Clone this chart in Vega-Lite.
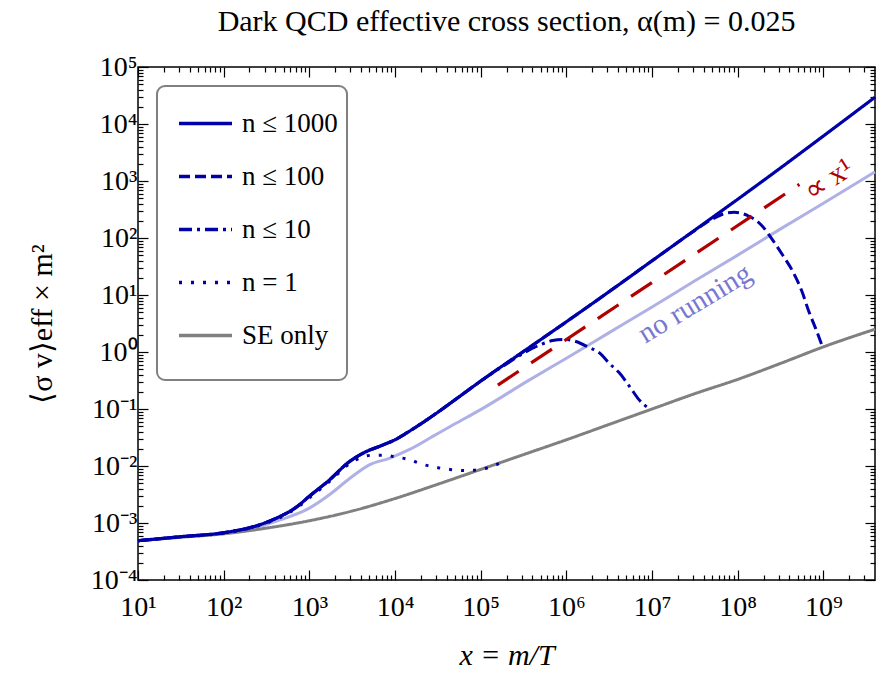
{
  "$schema": "https://vega.github.io/schema/vega-lite/v6.json",
  "width": 737,
  "height": 513,
  "autosize": {"type": "none"},
  "padding": {"left": 138, "top": 67, "right": 6, "bottom": 95},
  "background": "white",
  "title": {"text": "Dark QCD effective cross section, α(m) = 0.025", "font": "Liberation Serif", "fontSize": 30, "fontWeight": "normal", "color": "black", "anchor": "middle", "offset": 16},
  "config": {
    "font": "Liberation Serif",
    "view": {"stroke": "black", "strokeWidth": 1.5},
    "legend": {"strokeWidth": 2},
    "line": {"interpolate": "monotone"}
  },
  "data": {"values": [
    {"s": "no running", "x": 10, "y": 0.00049},
    {"s": "no running", "x": 31.6, "y": 0.000569},
    {"s": "no running", "x": 100, "y": 0.000661},
    {"s": "no running", "x": 240, "y": 0.000832},
    {"s": "no running", "x": 447, "y": 0.001122},
    {"s": "no running", "x": 1000, "y": 0.00182},
    {"s": "no running", "x": 1698, "y": 0.00309},
    {"s": "no running", "x": 2951, "y": 0.00603},
    {"s": "no running", "x": 5012, "y": 0.01047},
    {"s": "no running", "x": 8710, "y": 0.0138},
    {"s": "no running", "x": 14791, "y": 0.0195},
    {"s": "no running", "x": 27542, "y": 0.0331},
    {"s": "no running", "x": 50119, "y": 0.055},
    {"s": "no running", "x": 100000, "y": 0.0977},
    {"s": "no running", "x": 371535, "y": 0.324},
    {"s": "no running", "x": 1000000, "y": 0.776},
    {"s": "no running", "x": 3162278, "y": 2.188},
    {"s": "no running", "x": 10000000, "y": 6.17},
    {"s": "no running", "x": 31622777, "y": 17.78},
    {"s": "no running", "x": 100000000, "y": 50.1},
    {"s": "no running", "x": 316227766, "y": 144.5},
    {"s": "no running", "x": 1000000000, "y": 407.4},
    {"s": "no running", "x": 4000000000, "y": 1445},

    {"s": "SE only", "x": 10, "y": 0.00049},
    {"s": "SE only", "x": 31.6, "y": 0.000562},
    {"s": "SE only", "x": 100, "y": 0.000646},
    {"s": "SE only", "x": 316, "y": 0.000813},
    {"s": "SE only", "x": 1000, "y": 0.001096},
    {"s": "SE only", "x": 3162, "y": 0.001622},
    {"s": "SE only", "x": 10000, "y": 0.00269},
    {"s": "SE only", "x": 31623, "y": 0.00479},
    {"s": "SE only", "x": 100000, "y": 0.00871},
    {"s": "SE only", "x": 316228, "y": 0.01585},
    {"s": "SE only", "x": 1000000, "y": 0.02884},
    {"s": "SE only", "x": 3162278, "y": 0.0537},
    {"s": "SE only", "x": 10000000, "y": 0.1},
    {"s": "SE only", "x": 31622777, "y": 0.186},
    {"s": "SE only", "x": 100000000, "y": 0.331},
    {"s": "SE only", "x": 316227766, "y": 0.631},
    {"s": "SE only", "x": 1000000000, "y": 1.23},
    {"s": "SE only", "x": 4000000000, "y": 2.51},

    {"s": "n = 1", "x": 10, "y": 0.00049},
    {"s": "n = 1", "x": 31.6, "y": 0.000569},
    {"s": "n = 1", "x": 100, "y": 0.000668},
    {"s": "n = 1", "x": 240, "y": 0.000871},
    {"s": "n = 1", "x": 447, "y": 0.00123},
    {"s": "n = 1", "x": 708, "y": 0.00182},
    {"s": "n = 1", "x": 1000, "y": 0.002754},
    {"s": "n = 1", "x": 1698, "y": 0.00525},
    {"s": "n = 1", "x": 2951, "y": 0.01096},
    {"s": "n = 1", "x": 4169, "y": 0.01445},
    {"s": "n = 1", "x": 5623, "y": 0.01549},
    {"s": "n = 1", "x": 7244, "y": 0.01549},
    {"s": "n = 1", "x": 10000, "y": 0.01445},
    {"s": "n = 1", "x": 14791, "y": 0.01288},
    {"s": "n = 1", "x": 20893, "y": 0.01072},
    {"s": "n = 1", "x": 31623, "y": 0.00933},
    {"s": "n = 1", "x": 43652, "y": 0.00871},
    {"s": "n = 1", "x": 67608, "y": 0.00832},
    {"s": "n = 1", "x": 100000, "y": 0.00871},
    {"s": "n = 1", "x": 199526, "y": 0.01259},

    {"s": "n ≤ 10", "x": 10, "y": 0.00049},
    {"s": "n ≤ 10", "x": 31.6, "y": 0.000575},
    {"s": "n ≤ 10", "x": 100, "y": 0.000676},
    {"s": "n ≤ 10", "x": 240, "y": 0.000891},
    {"s": "n ≤ 10", "x": 447, "y": 0.001288},
    {"s": "n ≤ 10", "x": 708, "y": 0.001905},
    {"s": "n ≤ 10", "x": 1000, "y": 0.00295},
    {"s": "n ≤ 10", "x": 1698, "y": 0.00562},
    {"s": "n ≤ 10", "x": 2951, "y": 0.01202},
    {"s": "n ≤ 10", "x": 4169, "y": 0.0166},
    {"s": "n ≤ 10", "x": 7244, "y": 0.02344},
    {"s": "n ≤ 10", "x": 10000, "y": 0.02884},
    {"s": "n ≤ 10", "x": 14791, "y": 0.041},
    {"s": "n ≤ 10", "x": 27542, "y": 0.076},
    {"s": "n ≤ 10", "x": 50119, "y": 0.145},
    {"s": "n ≤ 10", "x": 100000, "y": 0.309},
    {"s": "n ≤ 10", "x": 199526, "y": 0.617},
    {"s": "n ≤ 10", "x": 316228, "y": 0.955},
    {"s": "n ≤ 10", "x": 501187, "y": 1.349},
    {"s": "n ≤ 10", "x": 691831, "y": 1.585},
    {"s": "n ≤ 10", "x": 954993, "y": 1.66},
    {"s": "n ≤ 10", "x": 1318257, "y": 1.514},
    {"s": "n ≤ 10", "x": 1778279, "y": 1.23},
    {"s": "n ≤ 10", "x": 2454709, "y": 0.955},
    {"s": "n ≤ 10", "x": 3162278, "y": 0.631},
    {"s": "n ≤ 10", "x": 4168694, "y": 0.427},
    {"s": "n ≤ 10", "x": 5495409, "y": 0.245},
    {"s": "n ≤ 10", "x": 7079458, "y": 0.1445},
    {"s": "n ≤ 10", "x": 9332543, "y": 0.1},

    {"s": "n ≤ 100", "x": 10, "y": 0.00049},
    {"s": "n ≤ 100", "x": 31.6, "y": 0.000575},
    {"s": "n ≤ 100", "x": 100, "y": 0.000676},
    {"s": "n ≤ 100", "x": 240, "y": 0.000891},
    {"s": "n ≤ 100", "x": 447, "y": 0.001288},
    {"s": "n ≤ 100", "x": 708, "y": 0.001905},
    {"s": "n ≤ 100", "x": 1000, "y": 0.00295},
    {"s": "n ≤ 100", "x": 1698, "y": 0.00562},
    {"s": "n ≤ 100", "x": 2951, "y": 0.01202},
    {"s": "n ≤ 100", "x": 4169, "y": 0.0166},
    {"s": "n ≤ 100", "x": 7244, "y": 0.02344},
    {"s": "n ≤ 100", "x": 10000, "y": 0.02884},
    {"s": "n ≤ 100", "x": 14791, "y": 0.041},
    {"s": "n ≤ 100", "x": 27542, "y": 0.076},
    {"s": "n ≤ 100", "x": 50119, "y": 0.145},
    {"s": "n ≤ 100", "x": 100000, "y": 0.309},
    {"s": "n ≤ 100", "x": 316228, "y": 1.023},
    {"s": "n ≤ 100", "x": 1000000, "y": 3.39},
    {"s": "n ≤ 100", "x": 3162278, "y": 11.48},
    {"s": "n ≤ 100", "x": 10000000, "y": 39.8},
    {"s": "n ≤ 100", "x": 31622777, "y": 136},
    {"s": "n ≤ 100", "x": 50118723, "y": 213.8},
    {"s": "n ≤ 100", "x": 70794578, "y": 269.2},
    {"s": "n ≤ 100", "x": 91201084, "y": 281.8},
    {"s": "n ≤ 100", "x": 131825674, "y": 245.5},
    {"s": "n ≤ 100", "x": 190546072, "y": 166},
    {"s": "n ≤ 100", "x": 251188643, "y": 95.5},
    {"s": "n ≤ 100", "x": 331131121, "y": 51.3},
    {"s": "n ≤ 100", "x": 436515832, "y": 26.3},
    {"s": "n ≤ 100", "x": 562341325, "y": 11.48},
    {"s": "n ≤ 100", "x": 676082975, "y": 5.13},
    {"s": "n ≤ 100", "x": 812830516, "y": 2.57},
    {"s": "n ≤ 100", "x": 977237221, "y": 1.23},

    {"s": "n ≤ 1000", "x": 10, "y": 0.00049},
    {"s": "n ≤ 1000", "x": 31.6, "y": 0.000575},
    {"s": "n ≤ 1000", "x": 100, "y": 0.000676},
    {"s": "n ≤ 1000", "x": 240, "y": 0.000891},
    {"s": "n ≤ 1000", "x": 447, "y": 0.001288},
    {"s": "n ≤ 1000", "x": 708, "y": 0.001905},
    {"s": "n ≤ 1000", "x": 1000, "y": 0.00295},
    {"s": "n ≤ 1000", "x": 1698, "y": 0.00562},
    {"s": "n ≤ 1000", "x": 2951, "y": 0.01202},
    {"s": "n ≤ 1000", "x": 4169, "y": 0.0166},
    {"s": "n ≤ 1000", "x": 7244, "y": 0.02344},
    {"s": "n ≤ 1000", "x": 10000, "y": 0.02884},
    {"s": "n ≤ 1000", "x": 14791, "y": 0.041},
    {"s": "n ≤ 1000", "x": 27542, "y": 0.076},
    {"s": "n ≤ 1000", "x": 50119, "y": 0.145},
    {"s": "n ≤ 1000", "x": 100000, "y": 0.309},
    {"s": "n ≤ 1000", "x": 316228, "y": 1.023},
    {"s": "n ≤ 1000", "x": 1000000, "y": 3.39},
    {"s": "n ≤ 1000", "x": 3162278, "y": 11.48},
    {"s": "n ≤ 1000", "x": 10000000, "y": 39.8},
    {"s": "n ≤ 1000", "x": 31622777, "y": 138},
    {"s": "n ≤ 1000", "x": 100000000, "y": 478.6},
    {"s": "n ≤ 1000", "x": 316227766, "y": 1698},
    {"s": "n ≤ 1000", "x": 1000000000, "y": 6166},
    {"s": "n ≤ 1000", "x": 4000000000, "y": 29512},

    {"s": "x1", "x": 158489, "y": 0.263},
    {"s": "x1", "x": 524807460, "y": 871}
  ]},
  "resolve": {"axis": {"x": "independent", "y": "independent"}},
  "layer": [
    {
      "transform": [{"filter": "datum.s == 'no running'"}],
      "mark": {"type": "line", "color": "#afb0e6", "strokeWidth": 3},
      "encoding": {
        "x": {"field": "x", "type": "quantitative", "scale": {"type": "log", "domain": [10, 4000000000], "nice": false},
          "axis": {"orient": "bottom", "grid": false, "domain": false,
            "values": [10,20,30,40,50,60,70,80,90,100,200,300,400,500,600,700,800,900,1000,2000,3000,4000,5000,6000,7000,8000,9000,10000,20000,30000,40000,50000,60000,70000,80000,90000,100000,200000,300000,400000,500000,600000,700000,800000,900000,1000000,2000000,3000000,4000000,5000000,6000000,7000000,8000000,9000000,10000000,20000000,30000000,40000000,50000000,60000000,70000000,80000000,90000000,100000000,200000000,300000000,400000000,500000000,600000000,700000000,800000000,900000000,1000000000,2000000000,3000000000],
            "labelExpr": "abs(log(datum.value)/LN10 - round(log(datum.value)/LN10)) < 0.01 ? '10' + ['⁰','¹','²','³','⁴','⁵','⁶','⁷','⁸','⁹'][round(log(datum.value)/LN10)] : ''",
            "tickSize": {"condition": {"test": "abs(log(datum.value)/LN10 - round(log(datum.value)/LN10)) < 0.01", "value": -10}, "value": -5},
            "tickColor": "black", "tickWidth": 1.2,
            "labelPadding": 23, "labelFont": "Liberation Serif", "labelFontSize": 28, "labelColor": "black", "labelOverlap": false, "labelFlush": false,
            "title": "x = m/T", "titleFont": "Liberation Serif", "titleFontSize": 30, "titleFontStyle": "italic", "titleFontWeight": "normal", "titleColor": "black", "titlePadding": 14}},
        "y": {"field": "y", "type": "quantitative", "scale": {"type": "log", "domain": [0.0001, 100000], "nice": false},
          "axis": {"orient": "left", "grid": false, "domain": false,
            "values": [0.0001,0.0002,0.0003,0.0004,0.0005,0.0006,0.0007,0.0008,0.0009,0.001,0.002,0.003,0.004,0.005,0.006,0.007,0.008,0.009,0.01,0.02,0.03,0.04,0.05,0.06,0.07,0.08,0.09,0.1,0.2,0.3,0.4,0.5,0.6,0.7,0.8,0.9,1,2,3,4,5,6,7,8,9,10,20,30,40,50,60,70,80,90,100,200,300,400,500,600,700,800,900,1000,2000,3000,4000,5000,6000,7000,8000,9000,10000,20000,30000,40000,50000,60000,70000,80000,90000,100000],
            "labelExpr": "abs(log(datum.value)/LN10 - round(log(datum.value)/LN10)) < 0.01 ? '10' + (round(log(datum.value)/LN10) < 0 ? '⁻' : '') + ['⁰','¹','²','³','⁴','⁵','⁶','⁷','⁸','⁹'][abs(round(log(datum.value)/LN10))] : ''",
            "tickSize": {"condition": {"test": "abs(log(datum.value)/LN10 - round(log(datum.value)/LN10)) < 0.01", "value": -10}, "value": -5},
            "tickColor": "black", "tickWidth": 1.2,
            "labelPadding": 11, "labelFont": "Liberation Serif", "labelFontSize": 28, "labelColor": "black", "labelOverlap": false, "labelFlush": false,
            "title": "⟨σ v⟩eff × m²", "titleFont": "Liberation Serif", "titleFontSize": 30, "titleFontWeight": "normal", "titleColor": "black", "titlePadding": 33}}
      }
    },
    {
      "transform": [{"filter": "datum.s == 'SE only'"}],
      "mark": {"type": "line", "strokeWidth": 3},
      "encoding": {
        "x": {"field": "x", "type": "quantitative", "scale": {"type": "log", "domain": [10, 4000000000], "nice": false}, "axis": null},
        "y": {"field": "y", "type": "quantitative", "scale": {"type": "log", "domain": [0.0001, 100000], "nice": false}, "axis": null},
        "color": {"field": "s", "type": "nominal", "scale": {"domain": ["n ≤ 1000", "n ≤ 100", "n ≤ 10", "n = 1", "SE only"], "range": ["#0000aa", "#0000aa", "#0000aa", "#0000aa", "#808080"]},
          "legend": {"title": "\u00a0", "titleOrient": "bottom", "titleFontSize": 17, "titlePadding": 6, "orient": "none", "legendX": 19, "legendY": 19, "symbolType": "stroke", "symbolSize": 2809, "symbolStrokeWidth": 3.5, "labelFont": "Liberation Serif", "labelFontSize": 27, "labelColor": "black", "labelOffset": 8, "padding": 9, "symbolOffset": 11, "rowPadding": 11, "strokeColor": "#808080", "cornerRadius": 8, "fillColor": "white", "labelLimit": 400}},
        "strokeDash": {"field": "s", "type": "nominal", "scale": {"domain": ["n ≤ 1000", "n ≤ 100", "n ≤ 10", "n = 1", "SE only"], "range": [[1, 0], [11, 5], [13, 5, 3, 5], [3, 9], [1, 0]]},
          "legend": {"title": "\u00a0", "titleOrient": "bottom", "titleFontSize": 17, "titlePadding": 6, "orient": "none", "legendX": 19, "legendY": 19, "symbolType": "stroke", "symbolSize": 2809, "symbolStrokeWidth": 3.5, "labelFont": "Liberation Serif", "labelFontSize": 27, "labelColor": "black", "labelOffset": 8, "padding": 9, "symbolOffset": 11, "rowPadding": 11, "strokeColor": "#808080", "cornerRadius": 8, "fillColor": "white", "labelLimit": 400}}
      }
    },
    {
      "transform": [{"filter": "datum.s == 'n = 1'"}],
      "mark": {"type": "line", "strokeWidth": 3},
      "encoding": {
        "x": {"field": "x", "type": "quantitative", "scale": {"type": "log", "domain": [10, 4000000000], "nice": false}, "axis": null},
        "y": {"field": "y", "type": "quantitative", "scale": {"type": "log", "domain": [0.0001, 100000], "nice": false}, "axis": null},
        "color": {"field": "s", "type": "nominal", "scale": {"domain": ["n ≤ 1000", "n ≤ 100", "n ≤ 10", "n = 1", "SE only"], "range": ["#0000aa", "#0000aa", "#0000aa", "#0000aa", "#808080"]},
          "legend": {"title": "\u00a0", "titleOrient": "bottom", "titleFontSize": 17, "titlePadding": 6, "orient": "none", "legendX": 19, "legendY": 19, "symbolType": "stroke", "symbolSize": 2809, "symbolStrokeWidth": 3.5, "labelFont": "Liberation Serif", "labelFontSize": 27, "labelColor": "black", "labelOffset": 8, "padding": 9, "symbolOffset": 11, "rowPadding": 11, "strokeColor": "#808080", "cornerRadius": 8, "fillColor": "white", "labelLimit": 400}},
        "strokeDash": {"field": "s", "type": "nominal", "scale": {"domain": ["n ≤ 1000", "n ≤ 100", "n ≤ 10", "n = 1", "SE only"], "range": [[1, 0], [11, 5], [13, 5, 3, 5], [3, 9], [1, 0]]},
          "legend": {"title": "\u00a0", "titleOrient": "bottom", "titleFontSize": 17, "titlePadding": 6, "orient": "none", "legendX": 19, "legendY": 19, "symbolType": "stroke", "symbolSize": 2809, "symbolStrokeWidth": 3.5, "labelFont": "Liberation Serif", "labelFontSize": 27, "labelColor": "black", "labelOffset": 8, "padding": 9, "symbolOffset": 11, "rowPadding": 11, "strokeColor": "#808080", "cornerRadius": 8, "fillColor": "white", "labelLimit": 400}}
      }
    },
    {
      "transform": [{"filter": "datum.s == 'n ≤ 10'"}],
      "mark": {"type": "line", "strokeWidth": 3},
      "encoding": {
        "x": {"field": "x", "type": "quantitative", "scale": {"type": "log", "domain": [10, 4000000000], "nice": false}, "axis": null},
        "y": {"field": "y", "type": "quantitative", "scale": {"type": "log", "domain": [0.0001, 100000], "nice": false}, "axis": null},
        "color": {"field": "s", "type": "nominal", "scale": {"domain": ["n ≤ 1000", "n ≤ 100", "n ≤ 10", "n = 1", "SE only"], "range": ["#0000aa", "#0000aa", "#0000aa", "#0000aa", "#808080"]},
          "legend": {"title": "\u00a0", "titleOrient": "bottom", "titleFontSize": 17, "titlePadding": 6, "orient": "none", "legendX": 19, "legendY": 19, "symbolType": "stroke", "symbolSize": 2809, "symbolStrokeWidth": 3.5, "labelFont": "Liberation Serif", "labelFontSize": 27, "labelColor": "black", "labelOffset": 8, "padding": 9, "symbolOffset": 11, "rowPadding": 11, "strokeColor": "#808080", "cornerRadius": 8, "fillColor": "white", "labelLimit": 400}},
        "strokeDash": {"field": "s", "type": "nominal", "scale": {"domain": ["n ≤ 1000", "n ≤ 100", "n ≤ 10", "n = 1", "SE only"], "range": [[1, 0], [11, 5], [13, 5, 3, 5], [3, 9], [1, 0]]},
          "legend": {"title": "\u00a0", "titleOrient": "bottom", "titleFontSize": 17, "titlePadding": 6, "orient": "none", "legendX": 19, "legendY": 19, "symbolType": "stroke", "symbolSize": 2809, "symbolStrokeWidth": 3.5, "labelFont": "Liberation Serif", "labelFontSize": 27, "labelColor": "black", "labelOffset": 8, "padding": 9, "symbolOffset": 11, "rowPadding": 11, "strokeColor": "#808080", "cornerRadius": 8, "fillColor": "white", "labelLimit": 400}}
      }
    },
    {
      "transform": [{"filter": "datum.s == 'n ≤ 100'"}],
      "mark": {"type": "line", "strokeWidth": 3},
      "encoding": {
        "x": {"field": "x", "type": "quantitative", "scale": {"type": "log", "domain": [10, 4000000000], "nice": false}, "axis": null},
        "y": {"field": "y", "type": "quantitative", "scale": {"type": "log", "domain": [0.0001, 100000], "nice": false}, "axis": null},
        "color": {"field": "s", "type": "nominal", "scale": {"domain": ["n ≤ 1000", "n ≤ 100", "n ≤ 10", "n = 1", "SE only"], "range": ["#0000aa", "#0000aa", "#0000aa", "#0000aa", "#808080"]},
          "legend": {"title": "\u00a0", "titleOrient": "bottom", "titleFontSize": 17, "titlePadding": 6, "orient": "none", "legendX": 19, "legendY": 19, "symbolType": "stroke", "symbolSize": 2809, "symbolStrokeWidth": 3.5, "labelFont": "Liberation Serif", "labelFontSize": 27, "labelColor": "black", "labelOffset": 8, "padding": 9, "symbolOffset": 11, "rowPadding": 11, "strokeColor": "#808080", "cornerRadius": 8, "fillColor": "white", "labelLimit": 400}},
        "strokeDash": {"field": "s", "type": "nominal", "scale": {"domain": ["n ≤ 1000", "n ≤ 100", "n ≤ 10", "n = 1", "SE only"], "range": [[1, 0], [11, 5], [13, 5, 3, 5], [3, 9], [1, 0]]},
          "legend": {"title": "\u00a0", "titleOrient": "bottom", "titleFontSize": 17, "titlePadding": 6, "orient": "none", "legendX": 19, "legendY": 19, "symbolType": "stroke", "symbolSize": 2809, "symbolStrokeWidth": 3.5, "labelFont": "Liberation Serif", "labelFontSize": 27, "labelColor": "black", "labelOffset": 8, "padding": 9, "symbolOffset": 11, "rowPadding": 11, "strokeColor": "#808080", "cornerRadius": 8, "fillColor": "white", "labelLimit": 400}}
      }
    },
    {
      "transform": [{"filter": "datum.s == 'n ≤ 1000'"}],
      "mark": {"type": "line", "strokeWidth": 3.2},
      "encoding": {
        "x": {"field": "x", "type": "quantitative", "scale": {"type": "log", "domain": [10, 4000000000], "nice": false}, "axis": null},
        "y": {"field": "y", "type": "quantitative", "scale": {"type": "log", "domain": [0.0001, 100000], "nice": false}, "axis": null},
        "color": {"field": "s", "type": "nominal", "scale": {"domain": ["n ≤ 1000", "n ≤ 100", "n ≤ 10", "n = 1", "SE only"], "range": ["#0000aa", "#0000aa", "#0000aa", "#0000aa", "#808080"]},
          "legend": {"title": "\u00a0", "titleOrient": "bottom", "titleFontSize": 17, "titlePadding": 6, "orient": "none", "legendX": 19, "legendY": 19, "symbolType": "stroke", "symbolSize": 2809, "symbolStrokeWidth": 3.5, "labelFont": "Liberation Serif", "labelFontSize": 27, "labelColor": "black", "labelOffset": 8, "padding": 9, "symbolOffset": 11, "rowPadding": 11, "strokeColor": "#808080", "cornerRadius": 8, "fillColor": "white", "labelLimit": 400}},
        "strokeDash": {"field": "s", "type": "nominal", "scale": {"domain": ["n ≤ 1000", "n ≤ 100", "n ≤ 10", "n = 1", "SE only"], "range": [[1, 0], [11, 5], [13, 5, 3, 5], [3, 9], [1, 0]]},
          "legend": {"title": "\u00a0", "titleOrient": "bottom", "titleFontSize": 17, "titlePadding": 6, "orient": "none", "legendX": 19, "legendY": 19, "symbolType": "stroke", "symbolSize": 2809, "symbolStrokeWidth": 3.5, "labelFont": "Liberation Serif", "labelFontSize": 27, "labelColor": "black", "labelOffset": 8, "padding": 9, "symbolOffset": 11, "rowPadding": 11, "strokeColor": "#808080", "cornerRadius": 8, "fillColor": "white", "labelLimit": 400}}
      }
    },
    {
      "transform": [{"filter": "datum.s == 'x1'"}],
      "mark": {"type": "line", "color": "#b00000", "strokeWidth": 3.2, "strokeDash": [25, 15], "interpolate": "linear"},
      "encoding": {
        "x": {"field": "x", "type": "quantitative", "scale": {"type": "log", "domain": [10, 4000000000], "nice": false}, "axis": null},
        "y": {"field": "y", "type": "quantitative", "scale": {"type": "log", "domain": [0.0001, 100000], "nice": false}, "axis": null}
      }
    },
    {
      "data": {"values": [{"x": 31600000, "y": 7.1, "t": "no running"}]},
      "mark": {"type": "text", "angle": -31, "font": "Liberation Serif", "fontSize": 29, "color": "#7878d0", "align": "center", "baseline": "middle"},
      "encoding": {
        "x": {"field": "x", "type": "quantitative", "scale": {"type": "log", "domain": [10, 4000000000], "nice": false}, "axis": null},
        "y": {"field": "y", "type": "quantitative", "scale": {"type": "log", "domain": [0.0001, 100000], "nice": false}, "axis": null},
        "text": {"field": "t"}
      }
    },
    {
      "data": {"values": [{"x": 1150000000, "y": 1050, "t": "∝ x¹"}]},
      "mark": {"type": "text", "angle": -33, "font": "Liberation Serif", "fontSize": 30, "color": "#b00000", "align": "center", "baseline": "middle"},
      "encoding": {
        "x": {"field": "x", "type": "quantitative", "scale": {"type": "log", "domain": [10, 4000000000], "nice": false}, "axis": null},
        "y": {"field": "y", "type": "quantitative", "scale": {"type": "log", "domain": [0.0001, 100000], "nice": false}, "axis": null},
        "text": {"field": "t"}
      }
    },
    {
      "transform": [{"filter": "datum.s == 'x1'"}],
      "mark": {"type": "point", "opacity": 0},
      "encoding": {
        "x": {"field": "x", "type": "quantitative", "scale": {"type": "log", "domain": [10, 4000000000], "nice": false},
          "axis": {"orient": "top", "grid": false, "domain": false, "labels": false, "title": null,
            "values": [10,20,30,40,50,60,70,80,90,100,200,300,400,500,600,700,800,900,1000,2000,3000,4000,5000,6000,7000,8000,9000,10000,20000,30000,40000,50000,60000,70000,80000,90000,100000,200000,300000,400000,500000,600000,700000,800000,900000,1000000,2000000,3000000,4000000,5000000,6000000,7000000,8000000,9000000,10000000,20000000,30000000,40000000,50000000,60000000,70000000,80000000,90000000,100000000,200000000,300000000,400000000,500000000,600000000,700000000,800000000,900000000,1000000000,2000000000,3000000000],
            "tickSize": {"condition": {"test": "abs(log(datum.value)/LN10 - round(log(datum.value)/LN10)) < 0.01", "value": -10}, "value": -5},
            "tickColor": "black", "tickWidth": 1.2}},
        "y": {"field": "y", "type": "quantitative", "scale": {"type": "log", "domain": [0.0001, 100000], "nice": false},
          "axis": {"orient": "right", "grid": false, "domain": false, "labels": false, "title": null,
            "values": [0.0001,0.0002,0.0003,0.0004,0.0005,0.0006,0.0007,0.0008,0.0009,0.001,0.002,0.003,0.004,0.005,0.006,0.007,0.008,0.009,0.01,0.02,0.03,0.04,0.05,0.06,0.07,0.08,0.09,0.1,0.2,0.3,0.4,0.5,0.6,0.7,0.8,0.9,1,2,3,4,5,6,7,8,9,10,20,30,40,50,60,70,80,90,100,200,300,400,500,600,700,800,900,1000,2000,3000,4000,5000,6000,7000,8000,9000,10000,20000,30000,40000,50000,60000,70000,80000,90000,100000],
            "tickSize": {"condition": {"test": "abs(log(datum.value)/LN10 - round(log(datum.value)/LN10)) < 0.01", "value": -10}, "value": -5},
            "tickColor": "black", "tickWidth": 1.2}}
      }
    }
  ]
}
